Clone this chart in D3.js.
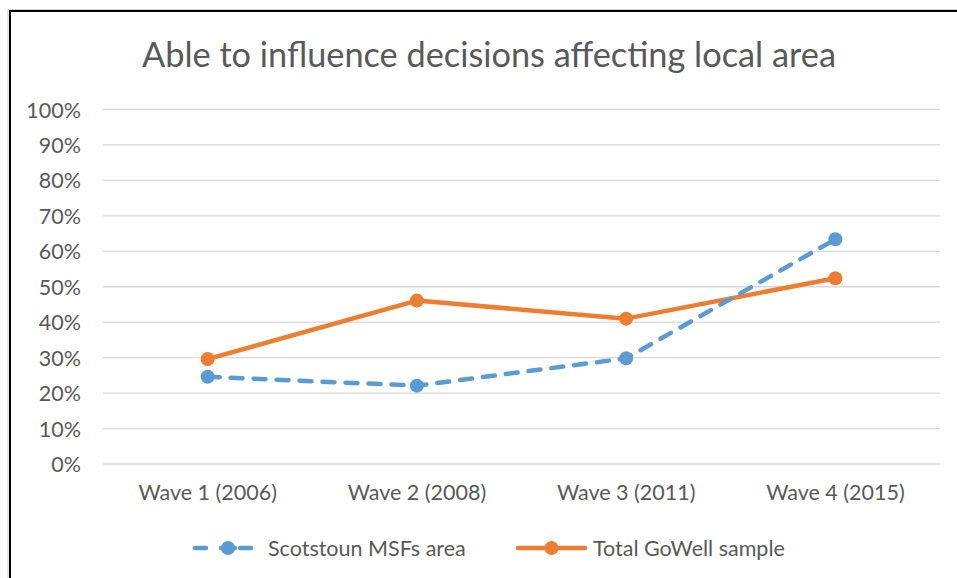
<!DOCTYPE html>
<html>
<head>
<meta charset="utf-8">
<script src="https://cdn.jsdelivr.net/npm/d3@7"></script>
<style>
  html, body { margin: 0; padding: 0; background: #fff; }
  svg { display: block; }
  text { font-family: Lato, "Open Sans", sans-serif; fill: #595959; }
</style>
</head>
<body>
<svg id="chart" width="957" height="578"></svg>
<script>
// Survey waves and the share of respondents who feel able to influence local decisions
const categories = ["Wave 1 (2006)", "Wave 2 (2008)", "Wave 3 (2011)", "Wave 4 (2015)"];
const scotstoun = [0.246, 0.221, 0.298, 0.634];
const totalGoWell = [0.296, 0.461, 0.410, 0.524];
const yTicks = [0, 0.1, 0.2, 0.3, 0.4, 0.5, 0.6, 0.7, 0.8, 0.9, 1.0];
const seriesNames = ["Scotstoun MSFs area", "Total GoWell sample"];
const titleText = "Able to influence decisions affecting local area";

const W = 957, H = 578;
const plot = { left: 103, right: 940, top: 109.5, bottom: 464 };
const colors = { blue: "#5B9BD5", orange: "#ED7D31", grid: "#D9D9D9" };
const labelSize = "21.5px";

const svg = d3.select("#chart");

// chart frame (open on the right and bottom edges of the window)
svg.append("rect")
  .attr("x", 8).attr("y", 9.5).attr("width", W + 20).attr("height", H + 20)
  .attr("fill", "none").attr("stroke", "#d0d0d0").attr("stroke-width", 1);
svg.append("rect")
  .attr("x", 10).attr("y", 11).attr("width", W + 20).attr("height", H + 20)
  .attr("fill", "#fff").attr("stroke", "#000").attr("stroke-width", 2);

// title
svg.append("text")
  .attr("x", 489).attr("y", 67)
  .attr("text-anchor", "middle")
  .style("font-size", "34.3px")
  .text(titleText);

const x = d3.scaleBand().domain(categories).range([plot.left, plot.right]);
const y = d3.scaleLinear().domain([0, 1]).range([plot.bottom, plot.top]);

// horizontal gridlines
svg.append("g")
  .selectAll("line")
  .data(yTicks)
  .join("line")
  .attr("x1", plot.left).attr("x2", plot.right)
  .attr("y1", d => y(d)).attr("y2", d => y(d))
  .attr("stroke", colors.grid).attr("stroke-width", 1.3);

// y axis labels
const yAxis = d3.axisLeft(y).tickValues(yTicks).tickFormat(d3.format(".0%")).tickSize(0).tickPadding(0);
const gy = svg.append("g").attr("transform", `translate(81,0)`).call(yAxis);
gy.select(".domain").remove();
gy.selectAll("text").style("font-size", labelSize).attr("fill", "#595959").attr("dy", "0.35em");

// x axis labels
const xAxis = d3.axisBottom(x).tickSize(0).tickPadding(0);
const gx = svg.append("g").attr("transform", `translate(0,485)`).call(xAxis);
gx.select(".domain").remove();
gx.selectAll("text").style("font-size", labelSize).attr("fill", "#595959").attr("dy", "0.71em");

const cx = d => x(d) + x.bandwidth() / 2;
const line = d3.line().x(d => cx(d.c)).y(d => y(d.v));

const series = [
  { name: seriesNames[0], values: scotstoun, color: colors.blue, dash: "12,11" },
  { name: seriesNames[1], values: totalGoWell, color: colors.orange, dash: null }
];

// draw the orange series first so the dashed blue line sits above it
[series[1], series[0]].forEach(s => {
  const pts = categories.map((c, i) => ({ c, v: s.values[i] }));
  svg.append("path")
    .datum(pts)
    .attr("d", line)
    .attr("fill", "none")
    .attr("stroke", s.color)
    .attr("stroke-width", 4.5)
    .attr("stroke-linecap", "round")
    .attr("stroke-linejoin", "round")
    .attr("stroke-dasharray", s.dash);
  svg.append("g").selectAll("circle")
    .data(pts)
    .join("circle")
    .attr("cx", d => cx(d.c)).attr("cy", d => y(d.v))
    .attr("r", 7)
    .attr("fill", s.color);
});

// legend
const legendY = 548;
const legendItems = [
  { s: series[0], x0: 193, x1: 253, mx: 228, tx: 268 },
  { s: series[1], x0: 518, x1: 585, mx: 551.5, tx: 593 }
];
const seg = (g, a, b, color) =>
  g.append("line").attr("x1", a).attr("x2", b)
    .attr("y1", legendY).attr("y2", legendY)
    .attr("stroke", color).attr("stroke-width", 4.5).attr("stroke-linecap", "round");
legendItems.forEach(item => {
  const g = svg.append("g");
  if (item.s.dash) {
    // short dashed sample: two outer dashes and one hidden under the marker
    seg(g, item.x0 + 2, item.x0 + 13, item.s.color);
    seg(g, item.mx - 7, item.mx + 7, item.s.color);
    seg(g, item.x1 - 13, item.x1 - 2, item.s.color);
  } else {
    seg(g, item.x0, item.x1, item.s.color);
  }
  g.append("circle").attr("cx", item.mx).attr("cy", legendY).attr("r", 7)
    .attr("fill", item.s.color);
  g.append("text").attr("x", item.tx).attr("y", legendY).attr("dy", "0.35em")
    .style("font-size", labelSize).text(item.s.name);
});
</script>
</body>
</html>
